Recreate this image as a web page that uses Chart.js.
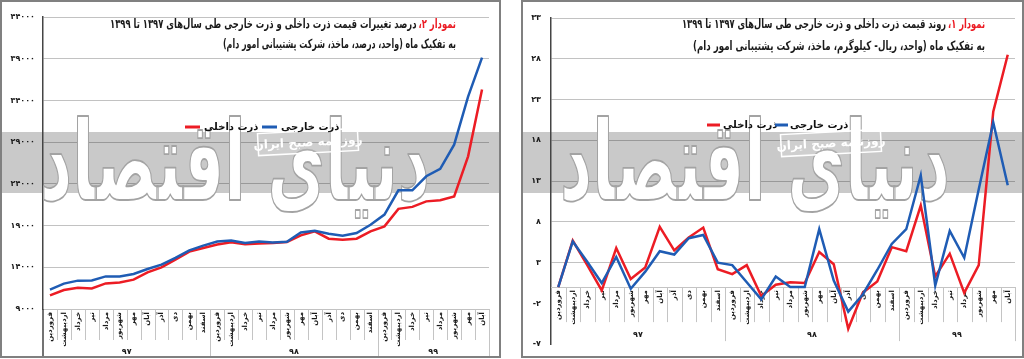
<!DOCTYPE html>
<html><head><meta charset="utf-8">
<script src="https://cdn.jsdelivr.net/npm/chart.js@4"></script>
<style>
html,body{margin:0;padding:0;background:#fff;width:1024px;height:359px;overflow:hidden}
canvas{position:absolute;top:0}
#c2chart{left:0}
#c1chart{left:521px}
</style></head><body>
<canvas id="c2chart" width="501" height="359"></canvas>
<canvas id="c1chart" width="503" height="359"></canvas>
<script>
// ---------- data ----------
const categories = [
  'فروردین','اردیبهشت','خرداد','تیر','مرداد','شهریور','مهر','آبان','آذر','دی','بهمن','اسفند',
  'فروردین','اردیبهشت','خرداد','تیر','مرداد','شهریور','مهر','آبان','آذر','دی','بهمن','اسفند',
  'فروردین','اردیبهشت','خرداد','تیر','مرداد','شهریور','مهر','آبان'
];
const yearLabels = ['۹۷','۹۸','۹۹'];
const monthsPerYear = [12, 12, 8];
const seriesNames = ['ذرت داخلی', 'ذرت خارجی'];

// Chart 2 (left panel)
const chart2Domestic = [10630,11280,11560,11470,12070,12190,12520,13390,13990,14920,15880,16320,
  16720,16990,16750,16840,16910,17030,17820,18300,17430,17310,17430,18310,
  18910,21000,21240,21900,22030,22500,27300,35300];
const chart2Foreign = [11320,12040,12400,12430,12910,12910,13200,13800,14320,15120,16030,16600,
  17080,17200,16920,17080,16980,17070,18180,18390,18030,17790,18110,19090,
  20320,23230,23230,24910,25800,28700,34450,39140];
const chart2Ticks = [9000, 14000, 19000, 24000, 29000, 34000, 39000, 44000];

// Chart 1 (right panel)
const chart1Domestic = [0,5.7,2.7,-0.4,4.8,1.0,2.4,7.4,4.5,6.1,7.3,2.2,
  1.6,2.7,-1.1,0.3,0.6,0.5,4.3,2.8,-5.1,-0.7,0.7,4.9,
  4.4,10.0,1.3,4.1,-0.7,2.7,21.5,28.5];
const chart1Foreign = [0,5.6,3.1,0.5,3.7,-0.2,1.9,4.4,4.0,6.0,6.4,3.0,
  2.7,0.6,-1.5,1.3,0.0,0.0,7.1,0.8,-3.0,-0.9,2.1,5.3,
  7.1,13.7,0.2,6.9,3.6,12.0,20.2,12.5];
const chart1Ticks = [-7, -2, 3, 8, 13, 18, 23, 28, 33];

const chart2TitleRed = 'نمودار ۲،';
const chart2Title1 = 'درصد تغییرات قیمت ذرت داخلی و ذرت خارجی طی سال‌های ۱۳۹۷ تا ۱۳۹۹';
const chart2Title2 = 'به تفکیک ماه (واحد، درصد، ماخذ، شرکت پشتیبانی امور دام)';
const chart1TitleRed = 'نمودار ۱،';
const chart1Title1 = 'روند قیمت ذرت داخلی و ذرت خارجی طی سال‌های ۱۳۹۷ تا ۱۳۹۹';
const chart1Title2 = 'به تفکیک ماه (واحد، ریال- کیلوگرم، ماخذ، شرکت پشتیبانی امور دام)';
const logoText = 'دنیای اقتصاد';
const boxText = 'روزنامه صبح ایران';

// ---------- styling ----------
const RED = '#ec1c24', BLUE = '#1f5cb4';
const FF = '"DejaVu Sans", sans-serif';
function fa(s) { return String(s).replace(/\d/g, d => '۰۱۲۳۴۵۶۷۸۹'[+d]); }

const decoPlugin = {
  id: 'deco',
  beforeDraw(chart, args, o) {
    const ctx = chart.ctx;
    ctx.save();
    ctx.fillStyle = '#ffffff'; ctx.fillRect(0, 0, chart.width, chart.height);
    ctx.fillStyle = '#c9c9c9'; ctx.fillRect(o.bandX1, o.bandTop, o.bandX2 - o.bandX1, o.bandH);
    ctx.restore();
  },
  beforeDatasetsDraw(chart, args, o) {
    const ctx = chart.ctx, ca = chart.chartArea;
    const xs = chart.scales.x, ys = chart.scales.y;
    // logo watermark
    ctx.save();
    ctx.font = 'bold 100px ' + FF; ctx.direction = 'rtl'; ctx.textAlign = 'center'; ctx.textBaseline = 'alphabetic';
    const lw = ctx.measureText(logoText).width;
    const sx = o.logoW / lw;
    ctx.translate(o.logoX, o.logoY); ctx.scale(sx, o.logoSY);
    ctx.lineJoin = 'round';
    ctx.fillStyle = '#ffffff'; ctx.fillText(logoText, 0, 0);
    ctx.strokeStyle = '#a3a3a3'; ctx.lineWidth = 1.0 / sx; ctx.strokeText(logoText, 0, 0);
    ctx.restore();
    // newspaper box
    ctx.save();
    ctx.translate(o.boxX, o.boxY); ctx.rotate(-3 * Math.PI / 180);
    ctx.fillStyle = 'rgba(255,255,255,0.12)'; ctx.fillRect(-50, -11, 100, 22);
    ctx.strokeStyle = '#ffffff'; ctx.lineWidth = 1.5; ctx.strokeRect(-50, -11, 100, 22);
    ctx.fillStyle = '#ffffff'; ctx.font = 'bold 12px ' + FF; ctx.direction = 'rtl';
    ctx.textAlign = 'center'; ctx.textBaseline = 'middle';
    ctx.fillText(boxText, 0, 1);
    ctx.restore();
    // category axis area
    ctx.save();
    const axisY = o.zeroAxis ? ys.getPixelForValue(0) : ca.bottom;
    const n = categories.length;
    const half = (xs.getPixelForValue(1) - xs.getPixelForValue(0)) / 2;
    ctx.strokeStyle = '#c4c4c4'; ctx.lineWidth = 1;
    if (o.zeroAxis) {
      ctx.beginPath(); ctx.moveTo(ca.left, Math.round(axisY) + 0.5); ctx.lineTo(ca.right, Math.round(axisY) + 0.5); ctx.stroke();
    }
    for (let i = 1; i <= n; i++) {
      const x = Math.round(xs.getPixelForValue(i - 1) + half) + 0.5;
      ctx.beginPath(); ctx.moveTo(x, axisY); ctx.lineTo(x, axisY + o.rowH); ctx.stroke();
    }
    let idx = 0;
    ctx.fillStyle = '#1a1a1a'; ctx.font = 'bold 8px ' + FF; ctx.textAlign = 'center'; ctx.textBaseline = 'middle';
    monthsPerYear.forEach((m, g) => {
      const xL = xs.getPixelForValue(idx) - half;
      const xR = xs.getPixelForValue(idx + m - 1) + half;
      const xr = Math.round(xR) + 0.5;
      ctx.beginPath(); ctx.moveTo(xr, axisY); ctx.lineTo(xr, axisY + o.rowH + o.yearH); ctx.stroke();
      ctx.fillText(yearLabels[g], (xL + xR) / 2, axisY + o.yearOff);
      idx += m;
    });
    if (o.axisExtendTo) {
      ctx.strokeStyle = '#444'; ctx.lineWidth = 1.5;
      ctx.beginPath(); ctx.moveTo(ca.left, ca.bottom); ctx.lineTo(ca.left, o.axisExtendTo); ctx.stroke();
    }
    ctx.font = 'bold 7px ' + FF; ctx.textAlign = 'right'; ctx.direction = 'ltr';
    for (let i = 0; i < n; i++) {
      ctx.save();
      ctx.translate(xs.getPixelForValue(i), axisY + 3);
      ctx.rotate(-Math.PI / 2);
      ctx.fillText(categories[i], 0, 0);
      ctx.restore();
    }
    ctx.restore();
  },
  afterDraw(chart, args, o) {
    const ctx = chart.ctx;
    ctx.save();
    ctx.direction = 'rtl'; ctx.textBaseline = 'middle'; ctx.textAlign = 'right';
    ctx.font = o.titleFont;
    // line 1 (red lead + black rest), condensed to the measured width
    const rw = ctx.measureText(o.titleRed).width;
    const restW = ctx.measureText(o.title1).width;
    const f1 = o.title1W / (rw + 3 + restW);
    ctx.save();
    ctx.translate(o.titleRight, o.titleY1); ctx.scale(f1, 1);
    ctx.fillStyle = RED; ctx.fillText(o.titleRed, 0, 0);
    ctx.fillStyle = '#1a1a1a'; ctx.fillText(o.title1, -(rw + 3), 0);
    ctx.restore();
    const t2w = ctx.measureText(o.title2).width;
    ctx.save();
    ctx.translate(o.titleRight, o.titleY2); ctx.scale(o.title2W / t2w, 1);
    ctx.fillStyle = '#1a1a1a'; ctx.fillText(o.title2, 0, 0);
    ctx.restore();
    // legend
    ctx.font = 'bold 10px ' + FF; ctx.textAlign = 'left';
    chart.data.datasets.forEach((ds, i) => {
      const L = o.legend[i];
      ctx.strokeStyle = ds.borderColor; ctx.lineWidth = 3;
      ctx.beginPath(); ctx.moveTo(L.x1, L.y); ctx.lineTo(L.x2, L.y); ctx.stroke();
      ctx.fillStyle = '#111'; ctx.fillText(ds.label, L.tx, L.y);
    });
    // panel border
    ctx.strokeStyle = '#808080'; ctx.lineWidth = 2;
    ctx.strokeRect(o.border[0], o.border[1], o.border[2], o.border[3]);
    ctx.restore();
  }
};

function makeChart(id, dom, fore, ticks, deco) {
  return new Chart(document.getElementById(id), {
    type: 'line',
    data: {
      labels: categories,
      datasets: [
        { label: seriesNames[0], data: dom, borderColor: RED, borderWidth: 2.5, pointRadius: 0, tension: 0, fill: false, order: 1 },
        { label: seriesNames[1], data: fore, borderColor: BLUE, borderWidth: 2.5, pointRadius: 0, tension: 0, fill: false, order: 0 }
      ]
    },
    options: {
      responsive: false, animation: false, devicePixelRatio: 1,
      layout: { padding: deco.padding },
      plugins: { legend: { display: false }, tooltip: { enabled: false }, deco: deco },
      scales: {
        x: { display: false, offset: true },
        y: {
          min: ticks[0], max: ticks[ticks.length - 1],
          afterBuildTicks: s => { s.ticks = ticks.map(v => ({ value: v })); },
          afterFit: s => { s.width = deco.yWidth; },
          ticks: { callback: v => fa(v), font: { family: FF, size: 8, weight: 'bold' }, color: '#1a1a1a', padding: deco.tickPad },
          grid: { drawTicks: false, lineWidth: 1, color: c => (c.tick && c.tick.value < 0) ? 'rgba(0,0,0,0)' : 'rgba(0,0,0,0.24)' },
          border: { display: true, color: '#444', width: 1.5 }
        }
      }
    },
    plugins: [decoPlugin]
  });
}

makeChart('c2chart', chart2Domestic, chart2Foreign, chart2Ticks, {
  padding: { left: 0, top: 17, right: 12, bottom: 50 },
  yWidth: 43, tickPad: 8,
  bandX1: 2, bandX2: 499, bandTop: 132, bandH: 61,
  logoX: 235, logoY: 200, logoW: 390, logoSY: 1.1,
  boxX: 308, boxY: 142,
  zeroAxis: false, rowH: 31, yearH: 17, yearOff: 43, axisExtendTo: 357,
  titleFont: 'bold 12.5px ' + FF, titleRed: chart2TitleRed, title1: chart2Title1, title2: chart2Title2,
  titleRight: 456, titleY1: 25, titleY2: 45, title1W: 346, title2W: 233,
  legend: [{ x1: 185, x2: 200, tx: 204, y: 127 }, { x1: 262, x2: 277, tx: 281, y: 127 }],
  border: [1, 1, 499, 356]
});

makeChart('c1chart', chart1Domestic, chart1Foreign, chart1Ticks, {
  padding: { left: 0, top: 18, right: 9, bottom: 8 },
  yWidth: 30, tickPad: 10,
  bandX1: 2, bandX2: 501, bandTop: 132, bandH: 61,
  logoX: 234, logoY: 200, logoW: 390, logoSY: 1.1,
  boxX: 310, boxY: 143,
  zeroAxis: true, rowH: 35, yearH: 19, yearOff: 48, axisExtendTo: 0,
  titleFont: 'bold 12.5px ' + FF, titleRed: chart1TitleRed, title1: chart1Title1, title2: chart1Title2,
  titleRight: 464, titleY1: 25, titleY2: 47, title1W: 303, title2W: 292,
  legend: [{ x1: 186, x2: 199, tx: 202, y: 125 }, { x1: 254, x2: 267, tx: 269, y: 125 }],
  border: [1, 1, 501, 356]
});
</script>
</body></html>
